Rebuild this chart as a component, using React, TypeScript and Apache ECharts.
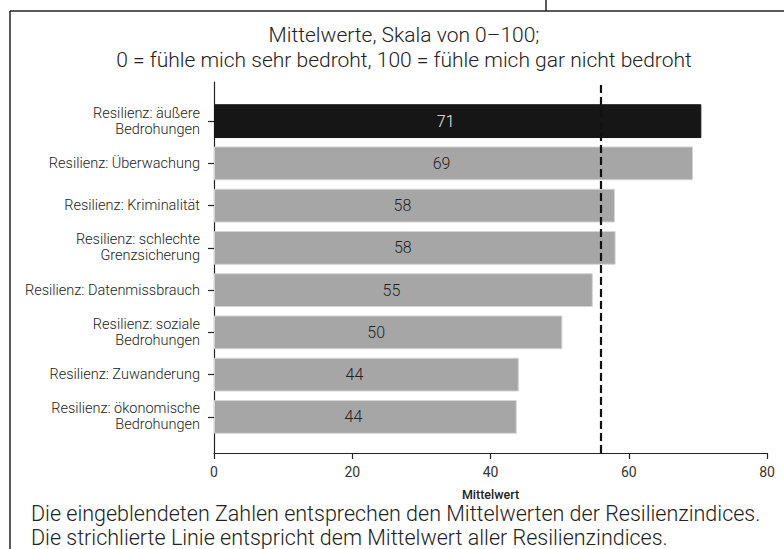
import React, { useEffect, useRef } from "react";
import * as echarts from "echarts";

const categories = [
  "Resilienz: äußere\nBedrohungen",
  "Resilienz: Überwachung",
  "Resilienz: Kriminalität",
  "Resilienz: schlechte\nGrenzsicherung",
  "Resilienz: Datenmissbrauch",
  "Resilienz: soziale\nBedrohungen",
  "Resilienz: Zuwanderung",
  "Resilienz: ökonomische\nBedrohungen",
];
const values = [70.5, 69.3, 58.0, 58.1, 54.8, 50.4, 44.1, 43.8];
const highlightIndex = 0;
const overallMean = 56.0;
const xTicks = [0, 20, 40, 60, 80];
const titleLines = [
  "Mittelwerte, Skala von 0–100;",
  "0 = fühle mich sehr bedroht, 100 = fühle mich gar nicht bedroht",
];
const footerLines = [
  "Die eingeblendeten Zahlen entsprechen den Mittelwerten der Resilienzindices.",
  "Die strichlierte Linie entspricht dem Mittelwert aller Resilienzindices.",
];
const xAxisTitle = "Mittelwert";

const FONT = "Roboto, 'Noto Sans', sans-serif";

export default function App() {
  const ref = useRef<HTMLDivElement>(null);
  useEffect(() => {
    if (!ref.current) return;
    const chart = echarts.init(ref.current, null, { renderer: "svg" });
    const xMin = xTicks[0];
    const xMax = xTicks[xTicks.length - 1];
    const interval = xTicks[1] - xTicks[0];
    chart.setOption({
      animation: false,
      backgroundColor: "#ffffff",
      textStyle: { fontFamily: FONT },
      title: {
        text: titleLines.join("\n"),
        left: 399,
        top: 17,
        textAlign: "center",
        textStyle: {
          fontFamily: FONT,
          fontSize: 21,
          fontWeight: 300,
          color: "#222",
          lineHeight: 25,
        },
      },
      grid: [
        { left: 214, right: 17, top: 100, height: 338 },
        { left: 214, right: 17, top: 82, bottom: 96 },
      ],
      xAxis: [
        {
          gridIndex: 0,
          type: "value",
          min: xMin,
          max: xMax,
          interval,
          show: false,
        },
        {
          gridIndex: 1,
          type: "value",
          min: xMin,
          max: xMax,
          interval,
          name: xAxisTitle,
          nameLocation: "middle",
          nameGap: 35,
          nameTextStyle: { fontFamily: FONT, fontSize: 12.5, fontWeight: 500, color: "#222" },
          axisLine: { show: true, lineStyle: { color: "#222", width: 1.2 } },
          axisTick: { show: true, length: 6, lineStyle: { color: "#222", width: 1.2 } },
          axisLabel: { fontFamily: FONT, fontSize: 14, color: "#333", margin: 12 },
          splitLine: { show: false },
        },
      ],
      yAxis: [
        {
          gridIndex: 0,
          type: "category",
          data: categories,
          inverse: true,
          axisLine: { show: false },
          axisTick: { show: true, length: 6, alignWithLabel: true, lineStyle: { color: "#222", width: 1.2 } },
          axisLabel: {
            fontFamily: FONT,
            fontSize: 14.5,
            fontWeight: 300,
            color: "#222",
            margin: 14,
            lineHeight: 16,
            align: "right",
          },
        },
        {
          gridIndex: 1,
          type: "value",
          min: 0,
          max: 1,
          axisLine: { show: true, lineStyle: { color: "#222", width: 1.2 } },
          axisTick: { show: false },
          axisLabel: { show: false },
          splitLine: { show: false },
        },
      ],
      series: [
        {
          type: "bar",
          xAxisIndex: 0,
          yAxisIndex: 0,
          barCategoryGap: "20%",
          data: values.map((v, i) => ({
            value: v,
            itemStyle: {
              color: i === highlightIndex ? "#161616" : "#a6a6a6",
              borderColor: i === highlightIndex ? "#161616" : "#d4d4d4",
              borderWidth: 1,
            },
            label: {
              color: i === highlightIndex ? "#f0f0f0" : "#222",
            },
          })),
          label: {
            show: true,
            position: "inside",
            offset: [-12, 0],
            fontFamily: FONT,
            fontSize: 16,
            fontWeight: 300,
            formatter: (p: any) => String(Math.round(p.value)),
          },
        },
        {
          type: "line",
          xAxisIndex: 1,
          yAxisIndex: 1,
          data: [],
          silent: true,
          markLine: {
            silent: true,
            symbol: ["none", "none"],
            label: { show: false },
            lineStyle: { color: "#111", type: [8, 4], width: 2.2 },
            data: [{ xAxis: overallMean }],
          },
        },
      ],
      graphic: [
        {
          type: "line",
          shape: { x1: 10, y1: 11, x2: 784, y2: 11 },
          style: { stroke: "#222", lineWidth: 1.5 },
        },
        {
          type: "line",
          shape: { x1: 10, y1: 11, x2: 10, y2: 549 },
          style: { stroke: "#222", lineWidth: 1.5 },
        },
        {
          type: "line",
          shape: { x1: 546, y1: 0, x2: 546, y2: 11 },
          style: { stroke: "#222", lineWidth: 1.5 },
        },
        {
          type: "text",
          left: 31,
          top: 501,
          style: {
            text: footerLines.join("\n"),
            fontFamily: FONT,
            fontSize: 21.5,
            fontWeight: 300,
            lineHeight: 24,
            fill: "#222",
          },
        },
      ],
    });
    return () => chart.dispose();
  }, []);
  return (
    <div
      ref={ref}
      style={{ position: "absolute", left: 0, top: 0, width: 784, height: 549 }}
    />
  );
}
